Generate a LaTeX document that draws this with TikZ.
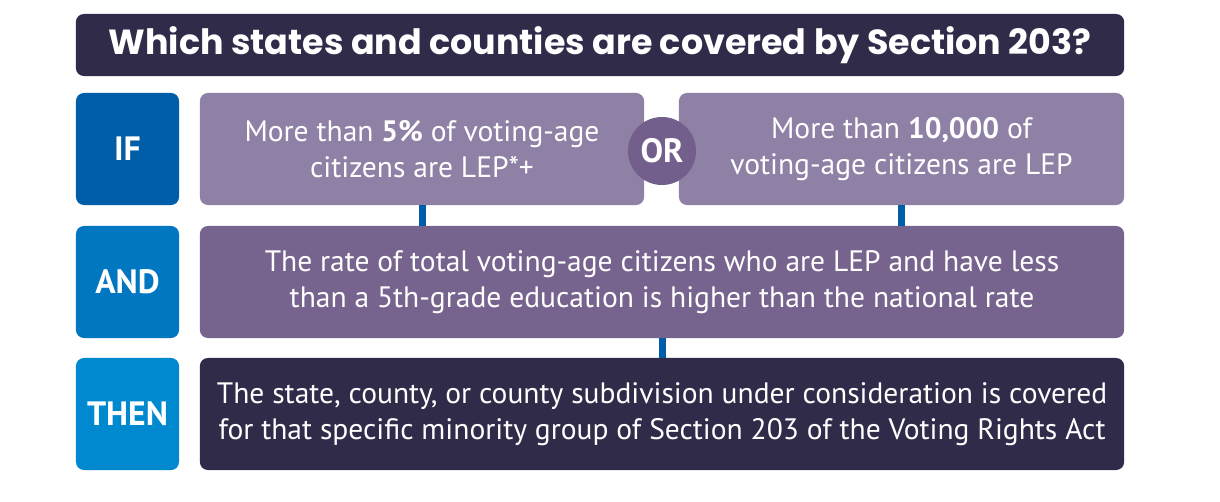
\documentclass[tikz,border=0pt]{standalone}
\usepackage{fontspec}
\setmainfont{PT Sans}
\newfontfamily\titlefont{Poppins}
\usetikzlibrary{positioning}

\definecolor{navy}{HTML}{312B4A}
\definecolor{ifblue}{HTML}{005DA8}
\definecolor{andblue}{HTML}{0077C0}
\definecolor{thenblue}{HTML}{0089CF}
\definecolor{lilac}{HTML}{8F80A5}
\definecolor{plum}{HTML}{77648E}
\definecolor{orplum}{HTML}{735F8C}

\begin{document}
\begin{tikzpicture}[
    x=0.025cm, y=-0.025cm,
    tag/.style = {rectangle, rounded corners=0.2cm, minimum width=2.575cm, minimum height=2.8cm,
                  text=white, inner sep=0pt, font=\fontsize{24}{28}\selectfont\bfseries},
    cond/.style = {rectangle, rounded corners=0.2cm, minimum height=2.8cm, text=white,
                   align=center, inner sep=0pt, font=\fontsize{21}{26}\selectfont},
    link/.style = {draw=ifblue, line width=0.175cm}
]
    \useasboundingbox (0,0) rectangle (1220,501);

    % Titre
    \node[fill=navy, rounded corners=0.2cm, minimum width=26.2cm, minimum height=1.55cm, text=white,
          font=\titlefont\fontsize{24.8}{28}\selectfont\bfseries] (title) at (600,45)
        {Which states and counties are covered by Section 203?};

    % Étiquettes
    \node[tag, fill=ifblue] (if) at (127.5,149) {IF};
    \node[tag, fill=andblue] (and) at (127.5,282) {AND};
    \node[tag, fill=thenblue] (then) at (127.5,414) {THEN};

    % Conditions
    \node[cond, fill=lilac, minimum width=11.1cm] (pct) at (422,149)
        {More than \textbf{5\%} of voting-age\\citizens are LEP*+};
    \node[cond, fill=lilac, minimum width=11.125cm] (num) at (901.5,149)
        {More than \textbf{10,000} of\\voting-age citizens are LEP};
    \node[circle, fill=orplum, minimum size=1.7cm, inner sep=0pt, text=white,
          font=\fontsize{24}{28}\selectfont\bfseries] (or) at (662,151) {OR};
    \node[cond, fill=plum, minimum width=23.1cm] (rate) at (662,282)
        {The rate of total voting-age citizens who are LEP and have less\\than a 5th-grade education is higher than the national rate};
    \node[cond, fill=navy, minimum width=23.1cm] (result) at (662,414)
        {The state, county, or county subdivision under consideration is covered\\for that specific minority group of Section 203 of the Voting Rights Act};

    % Liaisons
    \draw[link] (pct.south) -- (pct.south |- rate.north);
    \draw[link] (num.south) -- (num.south |- rate.north);
    \draw[link] (rate.south) -- (result.north);

\end{tikzpicture}
\end{document}
